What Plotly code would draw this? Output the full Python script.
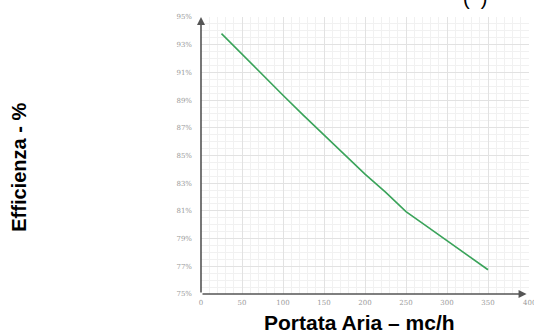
import plotly.graph_objects as go

portata = [25, 50, 75, 100, 125, 150, 175, 200, 225, 250, 275, 300, 325, 350]
efficienza = [93.8, 92.3, 90.8, 89.35, 87.9, 86.5, 85.05, 83.65, 82.35, 80.95, 79.9, 78.85, 77.75, 76.75]
x_ticks = [0, 50, 100, 150, 200, 250, 300, 350]
x_last_tick = 400
y_ticks = [75, 77, 79, 81, 83, 85, 87, 89, 91, 93, 95]
y_labels = [f"{v}%" for v in y_ticks]

fig = go.Figure()
fig.add_trace(go.Scatter(x=portata, y=efficienza, mode="lines",
                         line=dict(color="#3aa35a", width=1.6), showlegend=False))

tickfont = dict(family="DejaVu Serif", size=7, color="#9a9a9a")
fig.update_xaxes(range=[0, 400], tickvals=x_ticks, ticktext=[str(v) for v in x_ticks],
                 tickfont=tickfont, showgrid=True, gridcolor="#e2e2e2", gridwidth=1,
                 minor=dict(dtick=10, showgrid=True, gridcolor="#f1f1f1", gridwidth=1),
                 zeroline=False, showline=False, ticks="", ticklabelstandoff=3,
                 automargin=False)
fig.update_yaxes(range=[75, 95], tickvals=y_ticks, ticktext=y_labels,
                 tickfont=tickfont, showgrid=True, gridcolor="#e2e2e2", gridwidth=1,
                 minor=dict(dtick=0.5, showgrid=True, gridcolor="#f1f1f1", gridwidth=1),
                 zeroline=False, showline=False, ticks="", ticklabelstandoff=8,
                 automargin=False)

# last x tick label (sits at the right edge)
fig.add_annotation(x=x_last_tick, y=0, xref="x", yref="paper", yanchor="top",
                   xanchor="center", yshift=-3, text=str(x_last_tick), showarrow=False,
                   font=tickfont)

# axes with arrows
fig.add_annotation(x=0, y=95, ax=0, ay=75, xref="x", yref="y", axref="x", ayref="y",
                   text="", showarrow=True, arrowhead=2, arrowsize=1, arrowwidth=1.6,
                   arrowcolor="#555555")
fig.add_annotation(x=397, y=75, ax=0, ay=75, xref="x", yref="y", axref="x", ayref="y",
                   text="", showarrow=True, arrowhead=2, arrowsize=1, arrowwidth=1.6,
                   arrowcolor="#555555")

fig.add_annotation(x=-0.553, y=0.458, xref="paper", yref="paper", xanchor="center",
                   yanchor="middle", text="<b>Efficienza - %</b>",
                   textangle=-90, showarrow=False,
                   font=dict(family="Liberation Sans", size=20, color="#000"))
fig.add_annotation(x=0.482, y=-0.104, xref="paper", yref="paper", xanchor="center",
                   yanchor="middle", text="<b>Portata Aria – mc/h</b>", showarrow=False,
                   font=dict(family="Liberation Sans", size=21, color="#000"))
fig.add_annotation(x=0.835, y=1.07, xref="paper", yref="paper", xanchor="center",
                   yanchor="middle", text="(  )",
                   showarrow=False, font=dict(family="Liberation Sans", size=20, color="#000"))

fig.update_layout(width=534, height=331, margin=dict(l=201, r=5, t=17, b=37),
                  plot_bgcolor="white", paper_bgcolor="white")

fig.write_html("out.html", config={"displayModeBar": False},
               post_script="document.body.style.margin='0';")
